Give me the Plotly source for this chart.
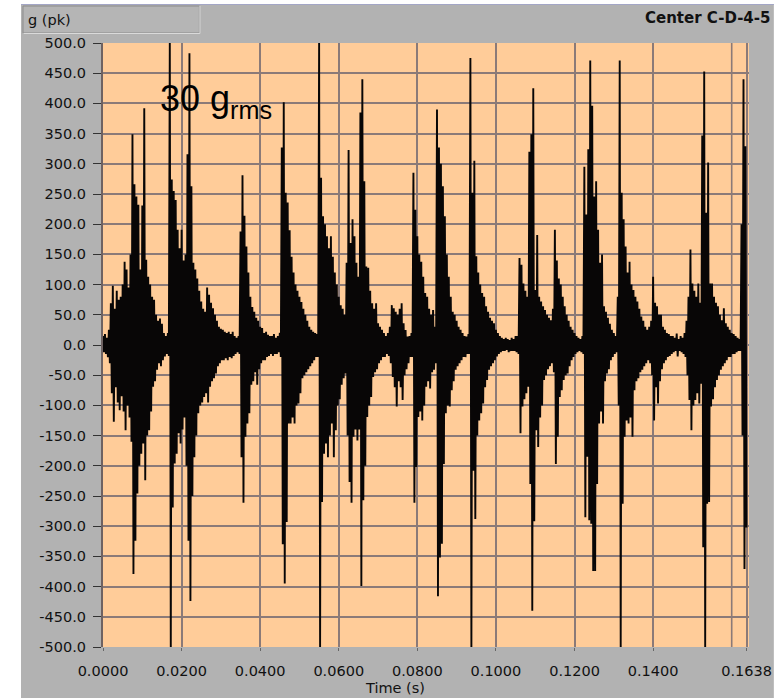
import numpy as np
import plotly.graph_objects as go

# ---- data (sample interval 0.5 ms) ----
dt = 0.0005  # s, sample spacing of the envelope readings
g_max = [
    15, 18, 12, 25, 69, 98, 60, 90, 75, 80,
    100, 138, 125, 95, 150, 349, 266, 246, 232, 125,
    231, 392, 141, 113, 100, 80, 75, 50, 40, 44,
    35, 20, 15, 20, 500, 274, 255, 240, 191, 160,
    191, 140, 150, 316, 483, 263, 136, 125, 110, 90,
    72, 60, 55, 95, 83, 70, 61, 50, 40, 30,
    27, 25, 22, 20, 22, 18, 22, 15, 12, 15,
    188, 281, 214, 163, 120, 80, 63, 55, 45, 40,
    30, 28, 20, 22, 17, 15, 15, 18, 12, 15,
    20, 327, 402, 252, 236, 190, 146, 120, 100, 90,
    80, 71, 60, 50, 40, 30, 25, 22, 20, 18,
    500, 277, 213, 200, 180, 160, 180, 146, 120, 100,
    80, 66, 60, 50, 136, 323, 169, 208, 180, 136,
    113, 385, 440, 271, 130, 128, 90, 69, 60, 69,
    36, 30, 25, 20, 15, 20, 30, 66, 61, 55,
    50, 60, 69, 36, 25, 14, 15, 20, 285, 224,
    180, 150, 138, 113, 86, 80, 60, 50, 58, 30,
    390, 327, 300, 263, 213, 150, 113, 80, 55, 50,
    40, 30, 25, 20, 15, 14, 18, 475, 252, 305,
    147, 120, 100, 86, 80, 64, 55, 45, 40, 36,
    25, 20, 15, 12, 10, 12, 10, 8, 12, 10,
    15, 15, 144, 133, 102, 90, 80, 320, 349, 425,
    91, 182, 80, 72, 64, 58, 50, 45, 41, 60,
    191, 140, 110, 100, 80, 64, 50, 40, 30, 25,
    20, 15, 12, 10, 15, 295, 216, 324, 471, 396,
    246, 271, 191, 136, 150, 64, 55, 45, 35, 25,
    20, 15, 80, 471, 252, 208, 163, 120, 138, 100,
    91, 80, 72, 60, 47, 40, 30, 25, 30, 40,
    113, 70, 64, 50, 50, 30, 25, 20, 18, 15,
    15, 12, 19, 10, 15, 12, 20, 40, 80, 158,
    102, 90, 80, 102, 70, 347, 453, 219, 302, 102,
    102, 80, 70, 64, 50, 41, 61, 36, 30, 25,
    20, 18, 15, 12, 10, 200, 440, 329,
]
g_min = [
    -12, -15, -20, -30, -80, -127, -70, -95, -108, -85,
    -110, -141, -100, -120, -160, -379, -324, -246, -200, -180,
    -163, -224, -150, -141, -110, -69, -60, -41, -30, -35,
    -25, -19, -15, -18, -500, -269, -196, -180, -146, -163,
    -140, -120, -200, -324, -424, -250, -186, -150, -113, -100,
    -95, -86, -80, -95, -69, -60, -55, -47, -35, -30,
    -25, -25, -22, -25, -20, -22, -18, -15, -12, -15,
    -186, -261, -152, -130, -113, -66, -60, -45, -66, -40,
    -30, -25, -25, -20, -18, -15, -18, -15, -15, -12,
    -20, -330, -395, -293, -130, -130, -120, -130, -100, -97,
    -80, -55, -50, -45, -40, -35, -30, -25, -20, -20,
    -500, -260, -180, -163, -186, -150, -130, -186, -141, -100,
    -90, -66, -55, -47, -150, -227, -261, -152, -140, -158,
    -140, -399, -257, -200, -119, -100, -86, -53, -45, -40,
    -30, -25, -20, -20, -15, -18, -30, -53, -70, -102,
    -60, -70, -91, -50, -40, -30, -20, -20, -261, -202,
    -119, -110, -125, -100, -69, -60, -72, -45, -41, -30,
    -416, -352, -329, -197, -113, -100, -102, -75, -60, -41,
    -35, -30, -25, -20, -20, -15, -15, -500, -208, -288,
    -150, -125, -113, -97, -70, -58, -41, -35, -30, -25,
    -19, -15, -12, -10, -10, -8, -12, -10, -10, -10,
    -12, -15, -146, -102, -90, -80, -69, -230, -440, -292,
    -141, -169, -120, -100, -58, -50, -40, -35, -30, -45,
    -197, -152, -86, -75, -58, -50, -47, -35, -25, -20,
    -15, -12, -10, -12, -15, -285, -185, -290, -296, -374,
    -374, -230, -130, -110, -130, -60, -47, -40, -25, -20,
    -15, -12, -100, -500, -263, -152, -125, -130, -120, -152,
    -75, -60, -55, -45, -41, -35, -30, -25, -30, -50,
    -125, -70, -97, -60, -40, -30, -25, -20, -18, -15,
    -12, -10, -19, -10, -12, -15, -20, -50, -91, -141,
    -100, -91, -80, -97, -64, -335, -500, -263, -260, -102,
    -90, -70, -58, -50, -41, -35, -30, -25, -20, -20,
    -15, -15, -12, -10, -10, -150, -371, -302,
]

x_tick_vals = [0.0, 0.02, 0.04, 0.06, 0.08, 0.10, 0.12, 0.14, 0.1638]
x_tick_text = ["0.0000", "0.0200", "0.0400", "0.0600", "0.0800", "0.1000",
               "0.1200", "0.1400", "0.1638"]
x_extra_grid = [0.16]
y_tick_vals = list(range(-500, 501, 50))
y_tick_text = [f"{v:.1f}" for v in y_tick_vals]

title_text = "Center C-D-4-5"
y_label = "g (pk)"
x_label = "Time (s)"
note_text = "30 g<sub>rms</sub>"

# ---- build the trace: max / min of each sample interval joined in time order ----
n = len(g_max)
t = np.arange(n) * dt
xs = np.empty(2 * n)
ys = np.empty(2 * n)
xs[0::2] = t
xs[1::2] = t + dt / 2
ys[0::2] = g_max
ys[1::2] = g_min

W, H = 784, 698
ml, mr, mt, mb = 103, 31, 43, 51
pw, ph = W - ml - mr, H - mt - mb


def px(xp):
    return (xp - ml) / pw


def py(yp):
    return (H - mb - yp) / ph


PANEL = "#B2B2B2"
PLOT_BG = "#FFCC99"
GRID = "#8B7A78"
FONT = "DejaVu Sans"

fig = go.Figure()
fig.add_trace(go.Scatter(
    x=xs, y=ys, mode="lines",
    line=dict(color="#080606", width=1.9, simplify=False),
    hoverinfo="skip", showlegend=False,
))

fig.update_layout(
    width=W, height=H,
    margin=dict(l=ml, r=mr, t=mt, b=mb, pad=0),
    paper_bgcolor=PANEL,
    plot_bgcolor=PLOT_BG,
    font=dict(family=FONT, size=14.5, color="#111111"),
    showlegend=False,
    xaxis=dict(
        range=[0, 0.1644], tickmode="array", tickvals=x_tick_vals, ticktext=x_tick_text,
        showgrid=True, gridcolor=GRID, gridwidth=1.6,
        zeroline=False, showline=False,
        ticks="outside", ticklen=3, tickwidth=1, tickcolor="#666666",
        ticklabelstandoff=8,
        tickfont=dict(family=FONT, size=14.5, color="#111111"),
    ),
    yaxis=dict(
        range=[-500, 500], tickmode="array", tickvals=y_tick_vals, ticktext=y_tick_text,
        showgrid=True, gridcolor=GRID, gridwidth=1.6,
        zeroline=False, showline=True, linecolor="#6E6262", linewidth=2,
        ticks="outside", ticklen=8, tickwidth=1, tickcolor="#333333",
        ticklabelstandoff=4,
        tickfont=dict(family=FONT, size=14.5, color="#111111"),
    ),
)

shapes = [
    dict(type="line", xref="x", yref="paper", x0=v, x1=v, y0=0, y1=1,
         line=dict(color=GRID, width=1.6), layer="below")
    for v in x_extra_grid
] + [
    # white margins of the screenshot
    dict(type="rect", xref="paper", yref="paper", x0=px(-5), x1=px(20.5), y0=py(H + 5), y1=py(-5),
         fillcolor="white", line=dict(width=0), layer="above"),
    dict(type="rect", xref="paper", yref="paper", x0=px(20), x1=px(W + 5), y0=py(4), y1=py(-5),
         fillcolor="white", line=dict(width=0), layer="above"),
    dict(type="rect", xref="paper", yref="paper", x0=px(778), x1=px(W + 5), y0=py(H + 5), y1=py(-5),
         fillcolor="white", line=dict(width=0), layer="above"),
    # thin bluish frame line at the top
    dict(type="line", xref="paper", yref="paper", x0=px(20.5), x1=px(778), y0=py(4.5), y1=py(4.5),
         line=dict(color="#A3A6C6", width=1), layer="above"),
    # y-label box
    dict(type="rect", xref="paper", yref="paper", x0=px(22.5), x1=px(200), y0=py(33), y1=py(6),
         fillcolor="#B5B5B5", line=dict(color="#8C8C8C", width=1), layer="above"),
    dict(type="line", xref="paper", yref="paper", x0=px(23), x1=px(200.5), y0=py(33.5), y1=py(33.5),
         line=dict(color="#DADADA", width=1), layer="above"),
    dict(type="line", xref="paper", yref="paper", x0=px(200.5), x1=px(200.5), y0=py(33.5), y1=py(6),
         line=dict(color="#DADADA", width=1), layer="above"),
]
fig.update_layout(shapes=shapes)

annotations = [
    dict(text=y_label, xref="paper", yref="paper", x=px(26), y=py(20), xanchor="left",
         yanchor="middle", showarrow=False, font=dict(family=FONT, size=14.5, color="#111111")),
    dict(text=f"<b>{title_text}</b>", xref="paper", yref="paper", x=px(776), y=py(17.5),
         xanchor="right", yanchor="middle", showarrow=False,
         font=dict(family=FONT, size=15, color="#111111")),
    dict(text=x_label, xref="paper", yref="paper", x=px(397), y=py(688), xanchor="center",
         yanchor="middle", showarrow=False, font=dict(family=FONT, size=14.5, color="#111111")),
    dict(text=note_text, xref="paper", yref="paper", x=px(158), y=py(101), xanchor="left",
         yanchor="middle", showarrow=False,
         font=dict(family="Liberation Sans", size=36, color="#000000")),
]
fig.update_layout(annotations=annotations)

fig.write_html(
    "out.html",
    config={"displayModeBar": False},
    post_script="document.body.style.margin='0';document.body.style.overflow='hidden';",
)
